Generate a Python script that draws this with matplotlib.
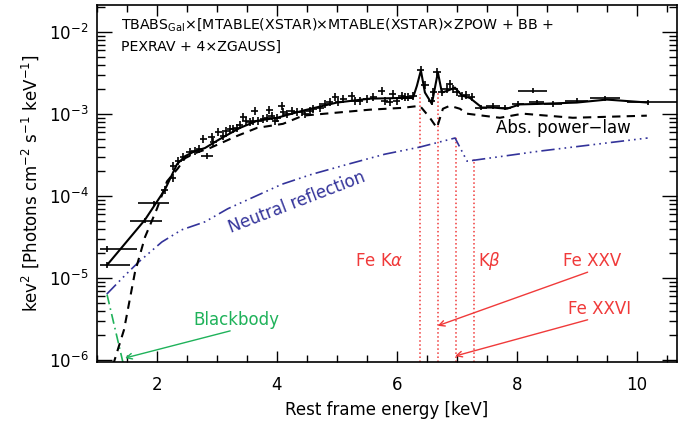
import numpy as np
import matplotlib
matplotlib.use("Agg")
from matplotlib import pyplot as plt
from matplotlib.ticker import MultipleLocator, LogLocator, NullFormatter

# ---- data ----
# dense, narrow bins: energy [keV], keV^2 flux
dense_x = [2.13, 2.26, 2.27, 2.355, 2.44, 2.55, 2.63, 2.705, 2.77, 2.91, 2.94, 3.02,
           3.105, 3.15, 3.22, 3.27, 3.33, 3.38, 3.44, 3.48, 3.55, 3.605, 3.63, 3.69,
           3.77, 3.84, 3.87, 3.91, 3.97, 4.0, 4.08, 4.105, 4.16, 4.245, 4.33, 4.41,
           4.47, 4.55, 4.605, 4.72, 4.80, 4.88, 4.97, 5.02, 5.105, 5.245, 5.30, 5.38,
           5.495, 5.605, 5.745, 5.80, 5.88, 5.93, 6.0, 6.08, 6.13, 6.19, 6.27, 6.395,
           6.47, 6.58, 6.605, 6.67, 6.745, 6.83, 6.88, 6.94, 6.995, 7.08, 7.16, 7.245]
dense_y = [1.2e-4, 1.66e-4, 2.31e-4, 2.66e-4, 2.96e-4, 3.4e-4, 3.53e-4, 3.7e-4, 4.9e-4,
           5.3e-4, 4.6e-4, 6.1e-4, 5.4e-4, 6.2e-4, 6.5e-4, 6.5e-4, 6.7e-4, 7.4e-4,
           9.2e-4, 8.3e-4, 7.9e-4, 8.3e-4, 1.08e-3, 8.3e-4, 8.6e-4, 9.0e-4, 1.11e-3,
           9.4e-4, 8.3e-4, 9.0e-4, 1.26e-3, 1.05e-3, 1.0e-3, 1.1e-3, 1.05e-3, 1.05e-3,
           1.0e-3, 1.1e-3, 1.15e-3, 1.2e-3, 1.33e-3, 1.39e-3, 1.6e-3, 1.39e-3, 1.52e-3,
           1.68e-3, 1.46e-3, 1.46e-3, 1.52e-3, 1.6e-3, 1.93e-3, 1.46e-3, 1.39e-3,
           1.76e-3, 1.46e-3, 1.68e-3, 1.6e-3, 1.6e-3, 1.68e-3, 3.4e-3, 2.25e-3,
           1.46e-3, 1.85e-3, 3.25e-3, 1.85e-3, 2.0e-3, 2.3e-3, 2.0e-3, 1.85e-3,
           1.68e-3, 1.7e-3, 1.6e-3]
dense_halfwidth = 0.06
rel_err = 0.12

# wide bins: energy, flux, lower / upper half width
wide_x = [1.17, 1.17, 1.80, 1.955, 2.83, 7.41, 7.605, 7.8, 8.02, 8.27, 8.33, 8.605, 9.0, 9.47, 10.19]
wide_y = [2.26e-5, 1.45e-5, 5.0e-5, 8.15e-5, 3.06e-4, 1.2e-3, 1.26e-3, 1.2e-3, 1.33e-3,
          1.93e-3, 1.39e-3, 1.33e-3, 1.46e-3, 1.55e-3, 1.39e-3]
wide_lo = [0.12, 0.12, 0.25, 0.27, 0.1, 0.1, 0.12, 0.1, 0.1, 0.25, 0.12, 0.15, 0.2, 0.25, 0.36]
wide_hi = [0.50, 0.38, 0.28, 0.25, 0.1, 0.1, 0.12, 0.1, 0.1, 0.23, 0.12, 0.15, 0.18, 0.25, 0.6]

# total model
model_x = [1.167, 1.80, 2.133, 2.333, 2.467, 2.633, 2.80, 3.05, 3.383, 3.667, 4.0, 4.433,
           5.0, 5.55, 6.10, 6.267, 6.333, 6.40, 6.467, 6.583, 6.683, 6.75, 6.85, 6.967,
           7.083, 7.217, 7.417, 7.60, 7.833, 8.05, 8.383, 9.0, 9.50, 10.183]
model_y = [1.44e-5, 5.14e-5, 1.2e-4, 2.44e-4, 3.06e-4, 3.53e-4, 3.85e-4, 4.96e-4, 6.77e-4,
           8.26e-4, 8.99e-4, 1.10e-3, 1.38e-3, 1.54e-3, 1.57e-3, 1.57e-3, 2.2e-3, 3.40e-3,
           1.83e-3, 1.33e-3, 3.22e-3, 1.83e-3, 1.93e-3, 2.1e-3, 1.68e-3, 1.57e-3, 1.2e-3,
           1.2e-3, 1.16e-3, 1.31e-3, 1.33e-3, 1.38e-3, 1.5e-3, 1.38e-3]

# absorbed power law
pl_x = [1.267, 1.45, 1.633, 1.80, 2.00, 2.167, 2.35, 2.467, 2.633, 2.883, 3.333, 3.667,
        4.10, 4.433, 5.0, 5.55, 6.10, 6.383, 6.55, 6.667, 6.767, 6.883, 7.05, 7.167,
        7.433, 7.717, 8.10, 8.933, 10.167]
pl_y = [8.7e-7, 2.34e-6, 1.18e-5, 3.16e-5, 7.02e-5, 1.51e-4, 2.18e-4, 2.89e-4, 3.33e-4,
        3.85e-4, 5.4e-4, 6.77e-4, 7.59e-4, 9.55e-4, 1.04e-3, 1.13e-3, 1.19e-3, 1.26e-3,
        9.0e-4, 6.77e-4, 1.16e-3, 1.26e-3, 1.16e-3, 1.01e-3, 9.55e-4, 9.0e-4, 1.01e-3,
        9.0e-4, 9.55e-4]

# neutral reflection
refl_x = [1.162, 1.467, 1.69, 2.08, 2.41, 2.80, 3.18, 3.63, 4.08, 4.58, 5.18, 5.80,
          6.38, 6.97, 7.17, 8.38, 10.18]
refl_y = [6.37e-6, 1.08e-5, 1.56e-5, 2.75e-5, 3.87e-5, 4.85e-5, 7.0e-5, 9.86e-5, 1.39e-4,
          1.84e-4, 2.44e-4, 3.24e-4, 3.95e-4, 5.1e-4, 2.66e-4, 3.53e-4, 5.1e-4]

# blackbody
bb_x = [1.167, 1.52]
bb_y = [6.3e-6, 5.0e-7]

# iron line energies and heights of the dotted markers
line_e = [6.38, 6.68, 6.98, 7.28]
line_top = [1.77e-3, 1.93e-3, 5.25e-4, 2.8e-4]

RED = '#f03a3a'
BLUE = '#33339a'
GREEN = '#1fb25a'

plt.rcParams['font.family'] = ['DejaVu Sans']
plt.rcParams['mathtext.fontset'] = 'dejavusans'

fig = plt.figure(figsize=(6.88, 4.22), dpi=100)
ax = fig.add_axes([0.141, 0.142, 0.843, 0.846])
ax.set_yscale('log')
ax.set_xlim(1.0, 10.67)
ax.set_ylim(9.46e-7, 2.13e-2)

ax.vlines(line_e, 9.46e-7, line_top, colors=RED, linestyles=':', lw=1.1)

ax.plot(refl_x, refl_y, color=BLUE, lw=1.2, ls=(0, (8, 2.5, 1, 2.5, 1, 2.5, 1, 2.5)))
ax.plot(bb_x, bb_y, color=GREEN, lw=1.2, ls=(0, (6, 2.5, 1, 2.5)))
ax.plot(pl_x, pl_y, color='k', lw=1.5, ls=(0, (4, 3)))
ax.plot(model_x, model_y, color='k', lw=1.5)

ax.errorbar(dense_x, dense_y, xerr=dense_halfwidth,
            yerr=[np.array(dense_y) * rel_err / (1 + rel_err), np.array(dense_y) * rel_err],
            fmt='none', ecolor='k', elinewidth=1.2, capsize=0)
ax.errorbar(wide_x, wide_y, xerr=[wide_lo, wide_hi],
            yerr=[np.array(wide_y) * 0.08 / 1.08, np.array(wide_y) * 0.08],
            fmt='none', ecolor='k', elinewidth=1.2, capsize=0)

ax.text(0.041, 0.944, 'TBABS$_{\\rm Gal}$×[MTABLE(XSTAR)×MTABLE(XSTAR)×ZPOW + BB +',
        transform=ax.transAxes, fontsize=10.2, va='center', ha='left')
ax.text(0.041, 0.882, 'PEXRAV + 4×ZGAUSS]',
        transform=ax.transAxes, fontsize=10.2, va='center', ha='left')

ax.text(8.78, 6.77e-4, 'Abs. power\u2212law', fontsize=12, ha='center', va='center')
ax.text(4.33, 8.3e-5, 'Neutral reflection', fontsize=12, color=BLUE,
        ha='center', va='center', rotation=21, rotation_mode='anchor')
ax.text(3.33, 3.1e-6, 'Blackbody', fontsize=12, color=GREEN, ha='center', va='center')
ax.text(5.70, 1.61e-5, 'Fe K$\\alpha$', fontsize=12, color=RED, ha='center', va='center')
ax.text(7.55, 1.61e-5, 'K$\\beta$', fontsize=12, color=RED, ha='center', va='center')
ax.text(9.25, 1.61e-5, 'Fe XXV', fontsize=12, color=RED, ha='center', va='center')
ax.text(9.38, 4.24e-6, 'Fe XXVI', fontsize=12, color=RED, ha='center', va='center')

arrow = dict(arrowstyle='->', lw=1.0, shrinkA=0, shrinkB=0)
ax.annotate('', xy=(1.467, 1.06e-6), xytext=(3.22, 2.27e-6),
            arrowprops=dict(arrow, color=GREEN))
ax.annotate('', xy=(6.68, 2.62e-6), xytext=(9.18, 1.18e-5),
            arrowprops=dict(arrow, color=RED))
ax.annotate('', xy=(6.97, 1.12e-6), xytext=(9.18, 3.1e-6),
            arrowprops=dict(arrow, color=RED))

ax.xaxis.set_major_locator(MultipleLocator(2))
ax.xaxis.set_minor_locator(MultipleLocator(0.5))
ax.yaxis.set_major_locator(LogLocator(base=10, numticks=20))
ax.yaxis.set_minor_locator(LogLocator(base=10, subs=np.arange(2, 10), numticks=20))
ax.yaxis.set_minor_formatter(NullFormatter())
ax.tick_params(which='both', direction='in', top=True, right=True, labelsize=12, width=1.0)
ax.tick_params(axis='x', which='major', length=8, pad=10)
ax.tick_params(axis='x', which='minor', length=5)
ax.tick_params(axis='y', which='major', length=11, pad=6)
ax.tick_params(axis='y', which='minor', length=6)
for s in ax.spines.values():
    s.set_linewidth(1.2)

ax.set_xlabel('Rest frame energy [keV]', fontsize=12, labelpad=5)
ax.set_ylabel('kev$^2$ [Photons cm$^{-2}$ s$^{-1}$ keV$^{-1}$]', fontsize=12, labelpad=6)

fig.savefig('out.png', dpi=100)
